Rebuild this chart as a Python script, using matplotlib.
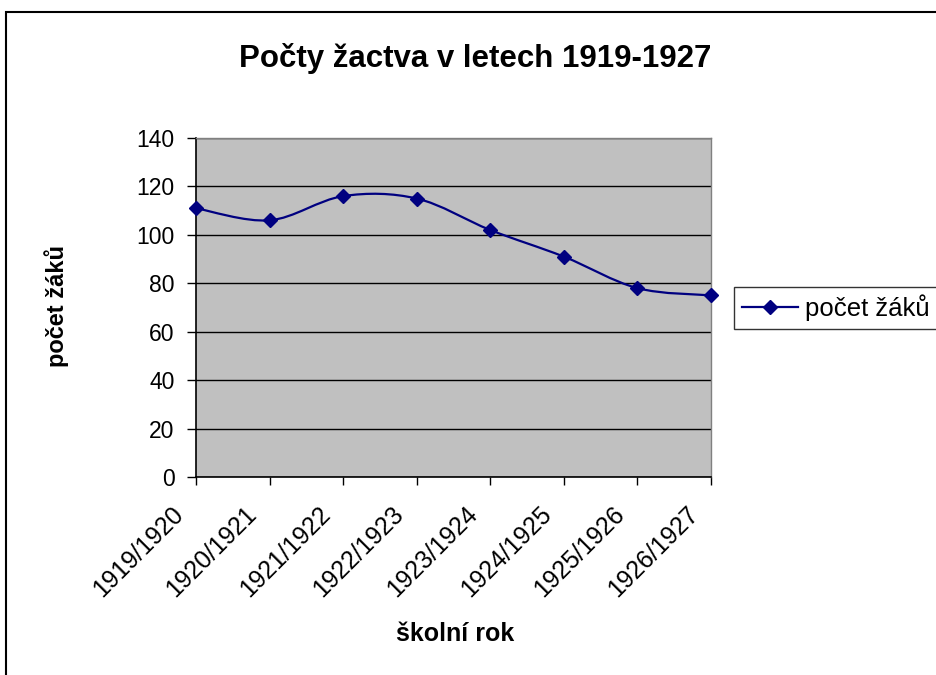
import numpy as np
import matplotlib
matplotlib.use("Agg")
import matplotlib.pyplot as plt
import matplotlib.transforms as mtransforms
from matplotlib.patches import Rectangle, PathPatch
from matplotlib.path import Path

plt.rcParams['font.family'] = ['Liberation Sans', 'DejaVu Sans']

years = ["1919/1920", "1920/1921", "1921/1922", "1922/1923",
         "1923/1924", "1924/1925", "1925/1926", "1926/1927"]
pupils = [111, 106, 116, 115, 102, 91, 78, 75]
series_name = "počet žáků"
title = "Počty žactva v letech 1919-1927"
xlabel = "školní rok"
ylabel = "počet žáků"

W, H = 936, 675
fig = plt.figure(figsize=(W / 100, H / 100), dpi=100)

# outer chart border
fig.patches.append(Rectangle((6 / W, -0.1), 1.2, 1 - 12 / H + 0.1, transform=fig.transFigure,
                             fill=False, edgecolor='black', linewidth=1.5))

left, right, top, bottom = 196, 711, 138, 477
ax = fig.add_axes([left / W, 1 - bottom / H, (right - left) / W, (bottom - top) / H])
ax.set_facecolor('#C0C0C0')

x = np.arange(len(years))
y = np.array(pupils, dtype=float)

# Excel-like smoothed line: cubic Bezier segments with Catmull-Rom control points
verts = [(x[0], y[0])]
codes = [Path.MOVETO]
n = len(x)
for i in range(n - 1):
    p0 = np.array([x[max(i - 1, 0)], y[max(i - 1, 0)]])
    p1 = np.array([x[i], y[i]])
    p2 = np.array([x[i + 1], y[i + 1]])
    p3 = np.array([x[min(i + 2, n - 1)], y[min(i + 2, n - 1)]])
    c1 = p1 + (p2 - p0) / 6.0
    c2 = p2 - (p3 - p1) / 6.0
    verts += [tuple(c1), tuple(c2), tuple(p2)]
    codes += [Path.CURVE4, Path.CURVE4, Path.CURVE4]
ax.add_patch(PathPatch(Path(verts, codes), facecolor='none', edgecolor='#000080',
                       linewidth=1.6, zorder=3, clip_on=False))
ax.plot(x, y, linestyle='none', marker='D', color='#000080', markersize=7.5, zorder=4,
        clip_on=False)
proxy, = ax.plot([], [], color='#000080', marker='D', markersize=7.5, linewidth=1.6,
                 label=series_name)

ax.set_xlim(0, n - 1)
ax.set_ylim(0, 140)
ax.set_yticks(np.arange(0, 141, 20))
ax.grid(axis='y', color='black', linewidth=1)
ax.set_axisbelow(True)
ax.set_xticks(x)
ax.set_xticklabels(years, rotation=45, ha='right', va='top', rotation_mode='anchor',
                   fontsize=17.8)
ax.tick_params(axis='y', labelsize=16.5, direction='out', length=6.5, width=1, pad=9)
ax.tick_params(axis='x', direction='out', length=6, width=1, pad=6)
offset = mtransforms.ScaledTranslation(-25 / 100, -8 / 100, fig.dpi_scale_trans)
for lab in ax.get_xticklabels():
    lab.set_transform(lab.get_transform() + offset)

for s in ['top', 'right']:
    ax.spines[s].set_color('#808080')
    ax.spines[s].set_linewidth(1)
for s in ['left', 'bottom']:
    ax.spines[s].set_color('black')
    ax.spines[s].set_linewidth(1.2)

fig.text(475 / W, 1 - 58 / H, title, ha='center', va='center', fontsize=22.5, fontweight='bold')
fig.text(455 / W, 1 - 634 / H, xlabel, ha='center', va='center', fontsize=18, fontweight='bold')
fig.text(57 / W, 1 - 306 / H, ylabel, ha='center', va='center', rotation=90,
         fontsize=17, fontweight='bold')

leg = fig.legend(handles=[proxy], loc='upper left', bbox_to_anchor=(734 / W, 1 - 287 / H),
                 bbox_transform=fig.transFigure, fontsize=18.5, frameon=True, fancybox=False,
                 edgecolor='black', handlelength=2.2, borderpad=0.3, handletextpad=0.25,
                 borderaxespad=0)
leg.get_frame().set_linewidth(1)

fig.savefig('out.png', dpi=100, facecolor='white')
